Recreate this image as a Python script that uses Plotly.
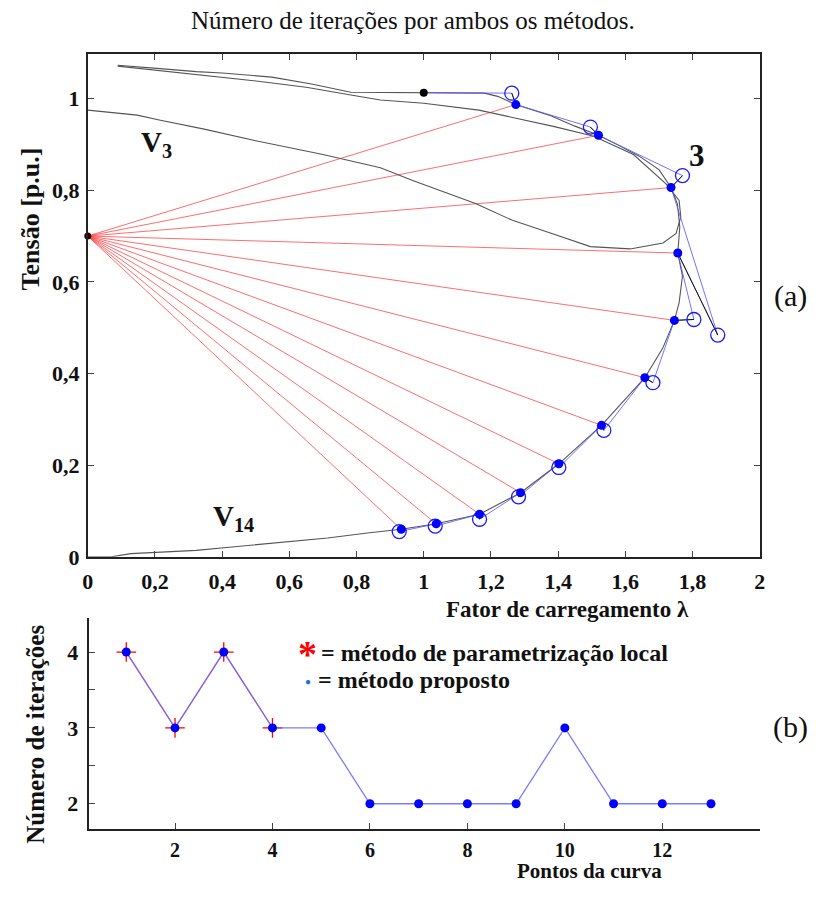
import plotly.graph_objects as go

W, H = 816, 897
SERIF = "Liberation Serif"

# ---- Upper panel: PV curves (lambda, V) ----
v14_lam = [0.0, 0.07, 0.128, 0.226, 0.323, 0.421, 0.558, 0.714, 0.832, 0.933, 1.037, 1.166,
           1.288, 1.402, 1.529, 1.658, 1.711, 1.746, 1.760, 1.770, 1.756, 1.762, 1.755, 1.736,
           1.700, 1.640, 1.580, 1.520, 1.450, 1.380, 1.274, 1.220, 1.180, 1.000, 0.900, 0.783,
           0.666, 0.548, 0.400, 0.323, 0.206, 0.089]
v14_v = [0.0, 0.0, 0.007, 0.011, 0.014, 0.021, 0.030, 0.041, 0.052, 0.060, 0.072, 0.093,
         0.140, 0.203, 0.287, 0.391, 0.455, 0.516, 0.555, 0.613, 0.663, 0.720, 0.770, 0.806,
         0.845, 0.875, 0.898, 0.920, 0.940, 0.962, 0.987, 1.005, 1.012, 1.013, 1.013, 1.014,
         1.032, 1.047, 1.056, 1.059, 1.066, 1.073]

v3_lam = [0.0, 0.147, 0.216, 0.343, 0.500, 0.700, 0.871, 0.969, 1.154, 1.262, 1.379, 1.496,
          1.614, 1.712, 1.751, 1.765, 1.760, 1.721, 1.624, 1.506, 1.389, 1.164, 1.000, 0.871,
          0.783, 0.650, 0.519, 0.323, 0.200, 0.089]
v3_v = [0.975, 0.964, 0.953, 0.934, 0.908, 0.878, 0.849, 0.821, 0.771, 0.735, 0.706, 0.677,
        0.672, 0.685, 0.706, 0.742, 0.778, 0.814, 0.878, 0.918, 0.939, 0.975, 0.990, 0.997,
        1.008, 1.025, 1.037, 1.052, 1.062, 1.071]

# starting point and pivot of the local parametrisation
start_lam, start_v = 1.0, 1.013
pivot_lam, pivot_v = 0.0, 0.70

# predicted (open circles) and corrected (filled) points
pred_lam = [1.262, 1.496, 1.770, 1.875, 1.804, 1.682, 1.536, 1.402, 1.282, 1.166, 1.034, 0.927]
pred_v = [1.012, 0.938, 0.832, 0.484, 0.518, 0.380, 0.276, 0.195, 0.131, 0.082, 0.067, 0.055]
corr_lam = [1.274, 1.520, 1.736, 1.756, 1.746, 1.658, 1.529, 1.402, 1.288, 1.166, 1.037, 0.933]
corr_v = [0.987, 0.920, 0.806, 0.663, 0.516, 0.391, 0.287, 0.203, 0.140, 0.093, 0.072, 0.060]

x_top_ticks = [0, 0.2, 0.4, 0.6, 0.8, 1.0, 1.2, 1.4, 1.6, 1.8, 2.0]
x_top_text = ["0", "0,2", "0,4", "0,6", "0,8", "1", "1,2", "1,4", "1,6", "1,8", "2"]
y_top_ticks = [0, 0.2, 0.4, 0.6, 0.8, 1.0]
y_top_text = ["0", "0,2", "0,4", "0,6", "0,8", "1"]

# ---- Lower panel: iterations per point ----
pontos = list(range(1, 14))
iter_proposto = [4, 3, 4, 3, 3, 2, 2, 2, 2, 3, 2, 2, 2]
pontos_local = [1, 2, 3, 4]
iter_local = [4, 3, 4, 3]
x_bot_ticks = [2, 4, 6, 8, 10, 12]
x_bot_text = ["2", "4", "6", "8", "10", "12"]
y_bot_ticks = [2, 3, 4]
y_bot_text = ["2", "3", "4"]
y_bot_minor = [2.5, 3.5]

fig = go.Figure()

# red rays from the pivot to each corrected point
rx, ry = [], []
for lx, vy in zip(corr_lam, corr_v):
    rx += [pivot_lam, lx, None]
    ry += [pivot_v, vy, None]
fig.add_trace(go.Scatter(x=rx, y=ry, mode="lines", line=dict(color="rgba(255,60,60,0.75)", width=1),
                         xaxis="x", yaxis="y", hoverinfo="skip"))

# the two PV curves
fig.add_trace(go.Scatter(x=v3_lam, y=v3_v, mode="lines", line=dict(color="#555555", width=1.1),
                         xaxis="x", yaxis="y"))
fig.add_trace(go.Scatter(x=v14_lam, y=v14_v, mode="lines", line=dict(color="#555555", width=1.1),
                         xaxis="x", yaxis="y"))

# predictor path (blue)
px_, py_ = [start_lam], [start_v]
for pl, pv, cl, cv in zip(pred_lam, pred_v, corr_lam, corr_v):
    px_ += [pl, cl]
    py_ += [pv, cv]
fig.add_trace(go.Scatter(x=px_, y=py_, mode="lines", line=dict(color="rgba(90,90,255,0.85)", width=1),
                         xaxis="x", yaxis="y"))

# corrector steps (black)
kx, ky = [], []
for pl, pv, cl, cv in zip(pred_lam, pred_v, corr_lam, corr_v):
    kx += [pl, cl, None]
    ky += [pv, cv, None]
fig.add_trace(go.Scatter(x=kx, y=ky, mode="lines", line=dict(color="#111111", width=1),
                         xaxis="x", yaxis="y"))

fig.add_trace(go.Scatter(x=pred_lam, y=pred_v, mode="markers",
                         marker=dict(symbol="circle-open", size=14, color="#1a1aff", line=dict(width=1.3)),
                         xaxis="x", yaxis="y"))
fig.add_trace(go.Scatter(x=corr_lam, y=corr_v, mode="markers",
                         marker=dict(symbol="circle", size=9, color="#0000ff"),
                         xaxis="x", yaxis="y"))
fig.add_trace(go.Scatter(x=[start_lam], y=[start_v], mode="markers",
                         marker=dict(symbol="circle", size=8, color="#000000"),
                         xaxis="x", yaxis="y"))
fig.add_trace(go.Scatter(x=[pivot_lam], y=[pivot_v], mode="markers",
                         marker=dict(symbol="circle", size=7, color="#200000"),
                         xaxis="x", yaxis="y", cliponaxis=False))

# lower panel
fig.add_trace(go.Scatter(x=pontos_local, y=iter_local, mode="lines+markers",
                         line=dict(color="rgba(255,80,80,0.8)", width=1.2),
                         marker=dict(symbol="cross-thin-open", size=14, color="#ff0000", line=dict(width=1.3, color="#ff0000")),
                         xaxis="x2", yaxis="y2"))
fig.add_trace(go.Scatter(x=pontos, y=iter_proposto, mode="lines+markers",
                         line=dict(color="rgba(100,100,255,0.85)", width=1.3),
                         marker=dict(symbol="circle", size=9, color="#0000ff"),
                         xaxis="x2", yaxis="y2"))

axis_common = dict(showline=True, linecolor="#222222", linewidth=2, ticks="inside", ticklen=6,
                   tickcolor="#444444", tickwidth=1, showgrid=False, zeroline=False)
tick_big = dict(family=SERIF, size=22, color="#111111", weight="bold")
tick_small = dict(family=SERIF, size=20, color="#111111", weight="bold")

fig.update_layout(
    width=W, height=H, autosize=False,
    margin=dict(l=0, r=0, t=0, b=0),
    paper_bgcolor="white", plot_bgcolor="white",
    showlegend=False,
    xaxis=dict(domain=[83 / W, 765 / W], range=[0, 2], tickvals=x_top_ticks, ticktext=x_top_text,
               mirror="ticks", anchor="y", ticklabelstandoff=4, tickfont=tick_big, **axis_common),
    yaxis=dict(domain=[1 - 565 / H, 1 - 55 / H], range=[0, 1.097], tickvals=y_top_ticks, ticktext=y_top_text,
               mirror="ticks", anchor="x", ticklabelstandoff=2, tickfont=tick_big, **axis_common),
    xaxis2=dict(domain=[84 / W, 765 / W], range=[0.23, 14], tickvals=x_bot_ticks, ticktext=x_bot_text,
                anchor="y2", ticklabelstandoff=2, tickfont=tick_small, **axis_common),
    yaxis2=dict(domain=[1 - 841 / H, 1 - 627 / H], range=[1.67, 4.45], tickvals=y_bot_ticks, ticktext=y_bot_text,
                anchor="x2", ticklabelstandoff=4, tickfont=tick_big,
                minor=dict(tickvals=y_bot_minor, ticks="inside", ticklen=6, tickcolor="#444444"),
                **axis_common),
)


def label(text, px, py, size=20, bold=True, angle=0, color="#111111", xanchor="center"):
    fig.add_annotation(x=px / W, y=1 - py / H, xref="paper", yref="paper", text=text, showarrow=False,
                       xanchor=xanchor, yanchor="middle", textangle=angle,
                       font=dict(family=SERIF, size=size, color=color, weight="bold" if bold else "normal"))


label("Número de iterações por ambos os métodos.", 413, 21, size=25, bold=False)
label("Tensão [p.u.]", 25, 222, size=26, angle=-90)
label("Fator de carregamento λ", 570, 618, size=23)
label("V<sub>3</sub>", 153, 146, size=29)
label("V<sub>14</sub>", 231, 526, size=29)
label("3", 701, 158, size=31)
label("(a)", 796, 300, size=30, bold=False)
label("(b)", 796, 738, size=30, bold=False)
label("Número de iterações", 30, 745, size=25, angle=-90)
label("Pontos da curva", 592, 884, size=21)
label("*", 306, 664, size=38, color="#ff0000")
label("= método de parametrização local", 318, 663, size=24, xanchor="left")
label("●", 307, 692, size=10, color="#1a6fd0")
label("= método proposto", 315, 690, size=24, xanchor="left")

fig.write_html("out.html")
